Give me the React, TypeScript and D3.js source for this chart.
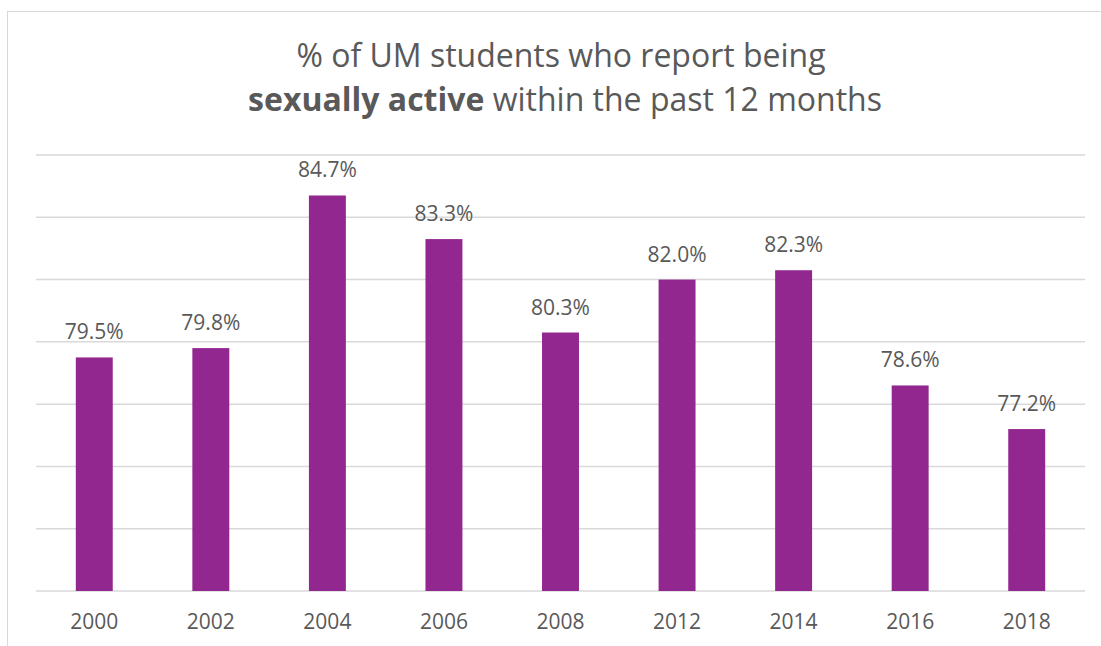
import React from "react";
import * as d3 from "d3";

const categories = ["2000", "2002", "2004", "2006", "2008", "2012", "2014", "2016", "2018"];
const values = [79.5, 79.8, 84.7, 83.3, 80.3, 82.0, 82.3, 78.6, 77.2];
const yTicks = [72, 74, 76, 78, 80, 82, 84, 86];

const W = 1101;
const H = 646;
const FONT = "'Open Sans', sans-serif";
const TEXT = "#595959";

export default function App() {
  const x = d3.scaleBand<string>().domain(categories).range([36, 1085]).paddingInner(0.683).paddingOuter(0.3415);
  const y = d3.scaleLinear().domain([72, 86]).range([591, 155]);

  return (
    <svg width={W} height={H} style={{ position: "absolute", left: 0, top: 0, background: "#fff" }}>
      <rect x={7.5} y={11.5} width={W + 10} height={H + 10} fill="#fff" stroke="#d9d9d9" strokeWidth={1} />
      <text x={561} y={67} textAnchor="middle" fontFamily={FONT} fontSize={32} fill={TEXT}>
        % of UM students who report being
      </text>
      <text x={565} y={111} textAnchor="middle" fontFamily={FONT} fontSize={32} fill={TEXT}>
        <tspan fontWeight="bold">sexually active</tspan> within the past 12 months
      </text>
      {yTicks.map((t) => (
        <line key={t} x1={36} x2={1085} y1={y(t)} y2={y(t)} stroke="#d9d9d9" strokeWidth={1.5} />
      ))}
      {categories.map((c, i) => (
        <g key={c}>
          <rect x={x(c)!} y={y(values[i])} width={x.bandwidth()} height={y(72) - y(values[i])} fill="#92278F" />
          <text x={x(c)! + x.bandwidth() / 2} y={y(values[i]) - 18} textAnchor="middle" fontFamily={FONT} fontSize={21} fill={TEXT}>
            {values[i].toFixed(1)}%
          </text>
          <text x={x(c)! + x.bandwidth() / 2} y={629} textAnchor="middle" fontFamily={FONT} fontSize={21} fill={TEXT}>
            {c}
          </text>
        </g>
      ))}
    </svg>
  );
}
